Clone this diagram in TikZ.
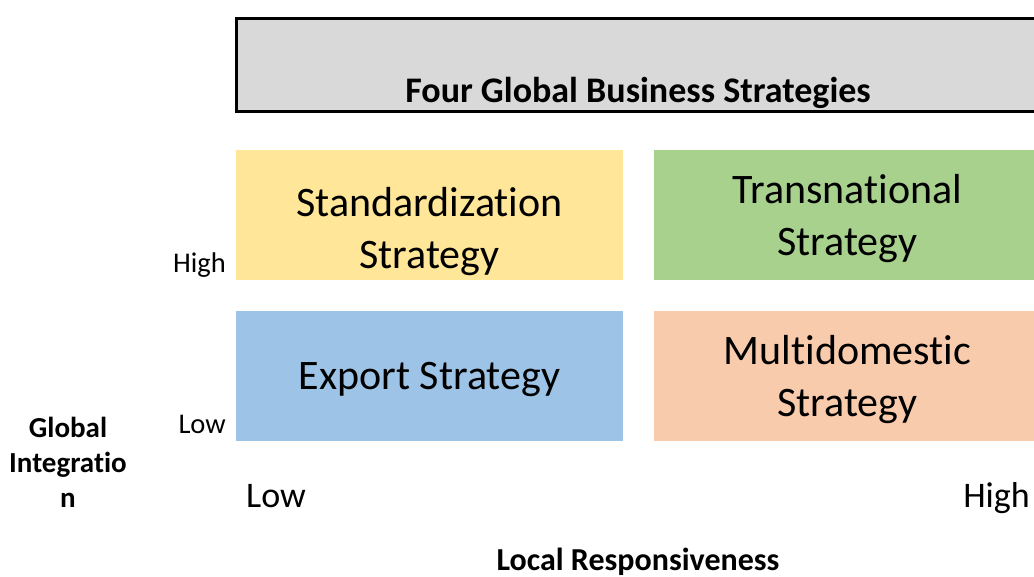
\documentclass[tikz,border=0pt]{standalone}
\usepackage{fontspec}
\setmainfont{Carlito}[RawFeature={-liga;-clig;-dlig;-calt}]
\usetikzlibrary{positioning}

\definecolor{titlegray}{HTML}{D9D9D9}
\definecolor{stdyellow}{HTML}{FFE699}
\definecolor{transgreen}{HTML}{A9D18E}
\definecolor{exportblue}{HTML}{9DC3E6}
\definecolor{multiorange}{HTML}{F8CBAD}

\tikzset{
  quad/.style={minimum width=387pt,minimum height=130pt,inner sep=0pt,outer sep=0pt,
    text depth=0pt,align=center,font=\fontsize{42}{52}\selectfont},
  tick/.style={font=\fontsize{28.5}{34}\selectfont,inner sep=0pt},
  axisname/.style={font=\bfseries\fontsize{29}{35}\selectfont,align=center,inner sep=0pt},
  endlabel/.style={font=\fontsize{36}{44}\selectfont,inner sep=0pt}
}

\begin{document}
\begin{tikzpicture}[x=1pt,y=-1pt]
          \useasboundingbox (0,0) rectangle (1034,576);
          \clip (0,0) rectangle (1034,576);

          \node (title) [draw,line width=3pt,fill=titlegray,outer sep=0pt,minimum width=804pt,
                         minimum height=93pt,anchor=north west] at (236.5,18.5) {};
          \node (heading) [anchor=base,font=\bfseries\fontsize{36}{43}\selectfont] at (638,102)
                {Four Global Business Strategies};

          \node (std)    [quad,fill=stdyellow,anchor=north west,
                          label={[quad,yshift=-13pt]center:Standardization\\Strategy}] at (236,150) {};
          \node (trans)  [quad,fill=transgreen,right=31pt of std]  {Transnational\\Strategy};
          \node (export) [quad,fill=exportblue,below=31pt of std]  {Export Strategy};
          \node (multi)  [quad,fill=multiorange,below=31pt of trans] {Multidomestic\\Strategy};

          \node (yhigh) [tick,anchor=base east] at (226,272) {High};
          \node (ylow)  [tick,anchor=base east] at (226,433) {Low};
          \node (yname) [axisname,anchor=base] at (68,507) {Global\\Integratio\\n};

          \node (xlow)  [endlabel,anchor=base west] at (246,507)  {Low};
          \node (xhigh) [endlabel,anchor=base east] at (1030,507) {High};
          \node (xname) [anchor=base,font=\bfseries\fontsize{32}{38}\selectfont] at (638,570)
                {Local Responsiveness};
        \end{tikzpicture}
\end{document}
